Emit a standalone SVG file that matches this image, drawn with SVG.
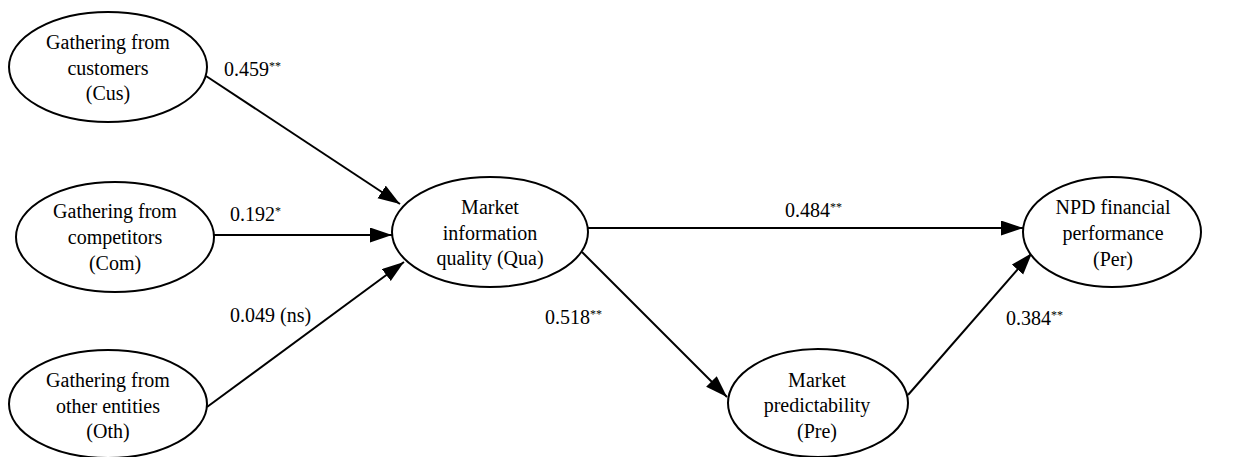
<svg xmlns="http://www.w3.org/2000/svg" width="1252" height="457" viewBox="0 0 1252 457">
<defs>
<style>
.node ellipse{fill:#fff;stroke:#000;stroke-width:2}
.node text,.lbl{font-family:"Liberation Serif","Times New Roman","DejaVu Serif",Times,serif;font-size:20px;fill:#000;text-anchor:middle}
.lbl{text-anchor:start}
.sup{font-size:12px}
.edges line{stroke:#000;stroke-width:2;marker-end:url(#arr)}
</style>
<marker id="arr" markerUnits="userSpaceOnUse" markerWidth="24" markerHeight="16" refX="22" refY="7.5" orient="auto">
<path d="M0,0 L22,7.5 L0,15 Z" fill="#000"/>
</marker>
</defs>
<g id="edges" class="edges">
<line x1="206" y1="76" x2="400" y2="204"/>
<line x1="213" y1="235" x2="392" y2="235"/>
<line x1="207" y1="407" x2="404" y2="262"/>
<line x1="588" y1="228" x2="1023" y2="228"/>
<line x1="582" y1="252" x2="727" y2="397"/>
<line x1="908" y1="395" x2="1032" y2="253"/>
</g>
<g id="labels" font-family="Liberation Serif, Times New Roman, serif">
<text class="lbl" x="224" y="76">0.459<tspan class="sup" dy="-6">**</tspan></text>
<text class="lbl" x="230" y="221">0.192<tspan class="sup" dy="-6">*</tspan></text>
<text class="lbl" x="230" y="322">0.049 (ns)</text>
<text class="lbl" x="785" y="217">0.484<tspan class="sup" dy="-6">**</tspan></text>
<text class="lbl" x="545" y="324">0.518<tspan class="sup" dy="-6">**</tspan></text>
<text class="lbl" x="1006" y="325">0.384<tspan class="sup" dy="-6">**</tspan></text>
</g>
<g id="cus" class="node">
<ellipse cx="108" cy="67" rx="99" ry="55"/>
<text x="108" y="49">Gathering from</text>
<text x="108" y="75">customers</text>
<text x="108" y="100">(Cus)</text>
</g>
<g id="com" class="node">
<ellipse cx="115" cy="237" rx="99" ry="55"/>
<text x="115" y="218">Gathering from</text>
<text x="115" y="244">competitors</text>
<text x="115" y="270">(Com)</text>
</g>
<g id="oth" class="node">
<ellipse cx="108" cy="404" rx="99" ry="54"/>
<text x="108" y="387">Gathering from</text>
<text x="108" y="413">other entities</text>
<text x="108" y="438">(Oth)</text>
</g>
<g id="qua" class="node">
<ellipse cx="490" cy="232" rx="98" ry="55"/>
<text x="490" y="214">Market</text>
<text x="490" y="240">information</text>
<text x="490" y="265">quality (Qua)</text>
</g>
<g id="per" class="node">
<ellipse cx="1112" cy="232" rx="89" ry="55"/>
<text x="1113" y="214">NPD financial</text>
<text x="1113" y="240">performance</text>
<text x="1113" y="266">(Per)</text>
</g>
<g id="pre" class="node">
<ellipse cx="818" cy="403" rx="90" ry="54"/>
<text x="817" y="387">Market</text>
<text x="817" y="412">predictability</text>
<text x="817" y="438">(Pre)</text>
</g>
</svg>
